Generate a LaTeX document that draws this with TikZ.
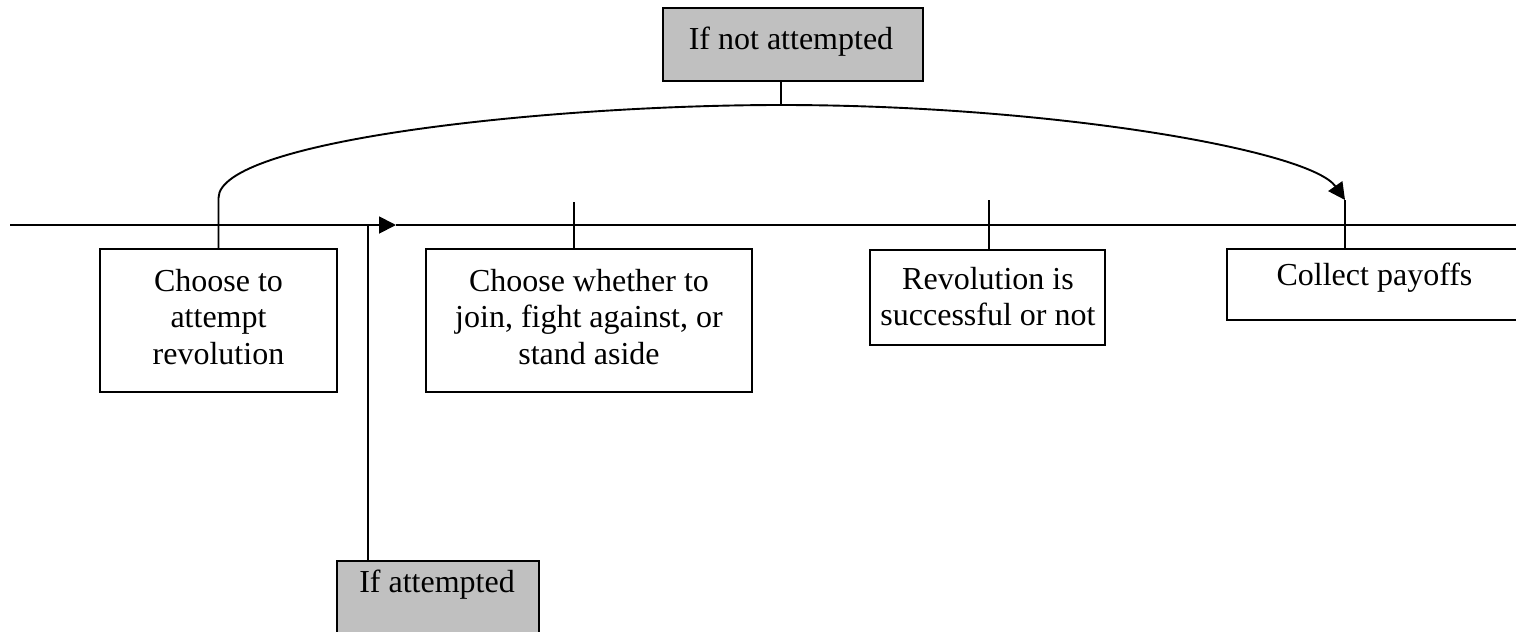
\documentclass[tikz,border=0pt]{standalone}
\usepackage{fontspec}
\setmainfont{Liberation Serif}
\usetikzlibrary{arrows.meta}
\definecolor{boxgray}{HTML}{C0C0C0}
\begin{document}
\begin{tikzpicture}[x=1pt,y=-1pt,line width=1.9pt,
  box/.style={draw,line width=1.9pt,inner sep=0pt,minimum width=#1},
  graybox/.style={box=#1,fill=boxgray},
  lbl/.style={inner sep=0pt,align=center,font=\fontsize{32}{36.5}\selectfont},
  tip/.style={-{Triangle[length=17pt,width=17pt]}}]
\clip (0,0) rectangle (1516,632);
% boxes
\node[graybox=260pt,minimum height=73pt] (top) at (793,44.5) {};
\node[box=237pt,minimum height=143pt] (b1) at (218.5,320.5) {};
\node[box=326pt,minimum height=143pt] (b2) at (589,320.5) {};
\node[box=235pt,minimum height=95pt] (b3) at (987.5,297.5) {};
\node[box=298pt,minimum height=71pt] (b4) at (1376,284.5) {};
\node[graybox=202pt,minimum height=89pt] (bot) at (438,605.5) {};
% labels
\node[lbl,anchor=base] (ttop) at (791,49) {If not attempted};
\node[lbl,anchor=north] (t1) at (218.5,268) {Choose to\\attempt\\revolution};
\node[lbl,anchor=north] (t2) at (589,268) {Choose whether to\\join, fight against, or\\stand aside};
\node[lbl,anchor=north] (t3) at (988,266) {Revolution is\\successful or not};
\node[lbl,anchor=base] (t4) at (1374.5,285) {Collect payoffs};
\node[lbl,anchor=base] (tbot) at (437,592) {If attempted};
% timeline
\coordinate (L) at (10,225);
\coordinate (A) at (396,225);
\coordinate (R) at (1516,225);
\draw[tip] (L) -- (A);
\draw (A) -- (R);
% ticks
\coordinate (k2) at (574,202);
\coordinate (k3) at (989,200);
\coordinate (v) at (368,225);
\draw (k2) -- (k2 |- b2.north);
\draw (k3) -- (k3 |- b3.north);
\draw (v) -- (v |- bot.north);
% curved connector
\coordinate (ctop) at (781,105);
\coordinate (c0) at (218.5,198);
\coordinate (arr) at (1345,200);
\draw (ctop |- top.south) -- (ctop);
\draw[tip] (b1.north) -- (c0) .. controls (218.5,140) and (550,105) .. (ctop)
  .. controls (1050,105) and (1310,150) .. (arr);
\draw (arr) -- (arr |- b4.north);
\end{tikzpicture}
\end{document}
